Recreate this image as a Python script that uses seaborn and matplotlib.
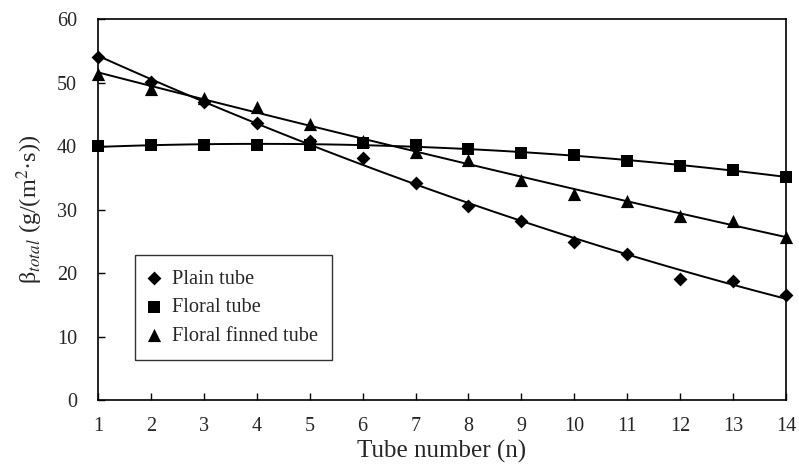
import numpy as np
import pandas as pd
import seaborn as sns
import matplotlib
matplotlib.use('Agg')
import matplotlib.pyplot as plt

tube_n = [1, 2, 3, 4, 5, 6, 7, 8, 9, 10, 11, 12, 13, 14]
plain = [54.0, 50.1, 47.0, 43.6, 40.8, 38.1, 34.1, 30.5, 28.2, 24.9, 23.0, 19.0, 18.8, 16.6]
floral = [40.0, 40.1, 40.2, 40.1, 40.1, 40.4, 40.2, 39.5, 38.9, 38.6, 37.6, 36.9, 36.3, 35.1]
finned = [51.3, 49.0, 47.6, 46.2, 43.5, 40.8, 39.0, 37.8, 34.7, 32.5, 31.3, 29.0, 28.2, 25.7]
names = ['Plain tube', 'Floral tube', 'Floral finned tube']
marks = ['D', 's', '^']
msize = [50, 75, 90]

sns.set_style('ticks')
plt.rcParams['font.family'] = ['Liberation Serif', 'DejaVu Serif']
plt.rcParams['mathtext.fontset'] = 'stix'

df = pd.DataFrame({'n': tube_n * 3,
                   'beta': plain + floral + finned,
                   'tube': [names[0]] * 14 + [names[1]] * 14 + [names[2]] * 14})

fig, ax = plt.subplots(figsize=(7.99, 4.72), dpi=100)
fig.subplots_adjust(left=0.1227, right=0.9837, top=0.9597, bottom=0.1525)

# quadratic trend lines (like excel)
for nm in names:
    sns.regplot(data=df[df.tube == nm], x='n', y='beta', order=2, ci=None,
                scatter=False, color='black', line_kws={'lw': 1.4}, ax=ax)

for nm, mk, sz in zip(names, marks, msize):
    sns.scatterplot(data=df[df.tube == nm], x='n', y='beta', marker=mk, s=sz,
                    color='black', edgecolor='black', linewidth=0, label=nm,
                    ax=ax, zorder=3, clip_on=False)

ax.set_xlim(1, 14)
ax.set_ylim(0, 60)
ax.set_xticks(range(1, 15))
ax.set_yticks(range(0, 61, 10))
ax.tick_params(direction='in', length=5, width=1, labelsize=14.5, color='black')
ax.tick_params(axis='x', pad=12)
ax.tick_params(axis='y', pad=15)
for sp in ax.spines.values():
    sp.set_color('black')
    sp.set_linewidth(1.2)

ax.set_xlabel('Tube number (n)', fontsize=18, labelpad=3)
ax.set_ylabel(r'β$_{\mathit{total}}$ (g/(m$^2$·s))', fontsize=17.5, labelpad=9)

leg = ax.legend(loc='lower left', bbox_to_anchor=(0.054, 0.105), borderaxespad=0,
                fontsize=14.7, frameon=True, fancybox=False, edgecolor='black',
                handletextpad=0.7, labelspacing=0.45, borderpad=0.7, handlelength=0.4)
leg.get_frame().set_linewidth(1.0)

fig.savefig('out.png', dpi=100)
